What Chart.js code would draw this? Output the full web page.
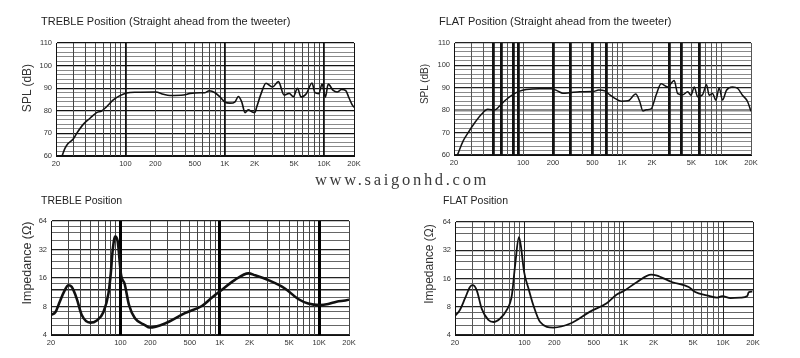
<!DOCTYPE html>
<html><head><meta charset="utf-8">
<script src="https://cdn.jsdelivr.net/npm/chart.js@4.4.1/dist/chart.umd.min.js"></script>
<style>
html,body{margin:0;padding:0;background:#fff;}
#wrap{position:relative;width:800px;height:358px;overflow:hidden;font-family:"Liberation Sans",Arial,sans-serif;background:#fff;}
canvas{position:absolute;left:0;top:0;}
.t{position:absolute;white-space:nowrap;color:#222;}
.v{position:absolute;white-space:nowrap;color:#333;transform:translate(-50%,-50%) rotate(-90deg);}
.wm{position:absolute;white-space:nowrap;color:#3a3a3a;font-family:"Liberation Serif","DejaVu Serif",serif;}
</style></head><body>
<div id="wrap">
<canvas id="c1" width="800" height="358"></canvas>
<canvas id="c2" width="800" height="358"></canvas>
<canvas id="c3" width="800" height="358"></canvas>
<canvas id="c4" width="800" height="358"></canvas>
<div class="t" style="left:41px;top:15px;font-size:11px">TREBLE Position (Straight ahead from the tweeter)</div>
<div class="t" style="left:439px;top:15px;font-size:11px">FLAT Position (Straight ahead from the tweeter)</div>
<div class="t" style="left:41px;top:194px;font-size:10.5px">TREBLE Position</div>
<div class="t" style="left:443px;top:194px;font-size:10.5px">FLAT Position</div>
<div class="v" style="left:27px;top:88px;font-size:12px">SPL (dB)</div>
<div class="v" style="left:424px;top:84px;font-size:10px">SPL (dB)</div>
<div class="v" style="left:27px;top:263px;font-size:12.5px">Impedance (Ω)</div>
<div class="v" style="left:429px;top:264px;font-size:12px">Impedance (Ω)</div>
<div class="wm" style="left:315px;top:170px;font-size:16.5px;letter-spacing:2.7px">www.saigonhd.com</div>
</div>
<script>
// ---------- data ----------
const trebleSplFreq = [22, 23, 24.6, 26.6, 29.8, 32.3, 37.6, 44, 51.3, 57.6, 64.6, 75.5, 88, 103, 130, 202, 241, 281, 385, 447, 566, 632, 699, 798, 893, 1005, 1130, 1270, 1370, 1480, 1600, 1720, 1940, 2010, 2100, 2360, 2600, 3020, 3470, 3950, 4450, 4900, 5400, 5850, 6650, 7550, 8100, 8850, 9550, 10300, 11000, 12340, 13500, 15000, 16500, 17700, 19000, 20000];
const trebleSplDb   = [58.5, 60, 63.4, 65.6, 67.5, 70, 74, 76.7, 79.2, 79.9, 81.8, 84.8, 86.7, 87.9, 88.2, 88.3, 87.3, 86.8, 87, 87.7, 88, 88, 88.9, 88, 86.2, 83.8, 83.4, 84, 86.3, 84, 79.2, 80.4, 79.3, 79.3, 81.8, 88.5, 92.2, 90.5, 92.9, 87, 87.7, 86.2, 90, 86.1, 87.7, 92.3, 88, 87.6, 91.8, 86.1, 91.8, 89, 88.3, 89.4, 89, 86, 83, 81.5];

const flatSplFreq = [21, 21.9, 24.7, 27.7, 32.4, 37.7, 43.9, 51.4, 57.8, 67.4, 78.6, 92, 107, 146, 192, 224, 251, 294, 373, 505, 580, 668, 750, 843, 983, 1150, 1370, 1500, 1620, 1750, 1960, 2200, 2470, 2880, 3350, 3640, 4090, 4590, 4960, 5350, 5780, 6480, 7110, 7560, 8170, 8840, 9540, 10300, 11300, 13000, 14600, 16400, 18400, 20000];
const flatSplDb   = [58.5, 60.5, 66.2, 69.9, 74.4, 78.1, 80.4, 80.1, 81.9, 84.8, 87, 88.5, 89.2, 89.6, 89.6, 88.5, 87.6, 87.8, 88.2, 88.3, 89, 88.6, 86.8, 85.3, 84, 84.2, 87.2, 84, 79.6, 80.2, 80.6, 86.8, 91.8, 90.4, 93.3, 87.4, 86.9, 88.2, 86.7, 90.4, 86, 86.9, 91.4, 86.7, 87.5, 84.5, 90, 84.5, 88.9, 90.4, 89.8, 86.7, 84, 79.5];

const trebleImpFreq = [20, 22.2, 24.5, 27.1, 29.9, 32.3, 36.3, 40.8, 49.6, 57.9, 67.5, 75.8, 80, 83.2, 88.4, 91, 94, 101.6, 110, 122, 140, 176, 197, 281, 446, 660, 830, 1006, 1410, 1940, 2270, 3080, 4530, 6160, 7770, 10200, 12340, 14960, 19600, 20000];
const trebleImpOhm  = [6.5, 7.0, 9.0, 11.5, 13.4, 12.9, 9.7, 6.5, 5.4, 5.7, 7.0, 11, 18, 30, 43.8, 43, 38.6, 17.1, 14.0, 8.3, 6.0, 5.1, 4.8, 5.3, 6.8, 8.1, 9.9, 11.6, 15.2, 17.9, 17.1, 15.2, 12.4, 9.6, 8.6, 8.3, 8.5, 9.0, 9.4, 9.5];

const flatImpFreq = [20, 22.4, 25.2, 28.3, 30.1, 33, 37.2, 43.3, 48.8, 56.9, 66.4, 74.7, 80.5, 88, 91.9, 99.2, 109.7, 123, 144, 196, 290, 458, 673, 849, 990, 1350, 1890, 2120, 3100, 4500, 5240, 6850, 8700, 9800, 11900, 15000, 17500, 18100, 19700];
const flatImpOhm  = [6.4, 7.4, 9.8, 13.0, 13.6, 12.1, 7.6, 5.8, 5.5, 6.0, 7.4, 10.6, 22, 44, 36, 18.8, 12.6, 8.3, 5.5, 4.8, 5.3, 7.1, 8.7, 10.8, 11.7, 14.6, 17.6, 17.3, 14.6, 13.0, 11.5, 10.6, 10.0, 10.4, 9.9, 10.0, 10.4, 11.4, 11.6];

// tick values / labels
const freqGridValues = [20,30,40,50,60,70,80,90,100,200,300,400,500,600,700,800,900,1000,2000,3000,4000,5000,6000,7000,8000,9000,10000,20000];
const freqLabelValues = [20, 100, 200, 500, 1000, 2000, 5000, 10000, 20000];
const freqLabelTexts  = ['20', '100', '200', '500', '1K', '2K', '5K', '10K', '20K'];
const splLabelValues = [60, 70, 80, 90, 100, 110];
const impGridValues = [4,5,6,7,8,10,12,14,16,20,24,28,32,40,48,56,64];
const impLabelValues = [4, 8, 16, 32, 64];
const impLabelTexts  = ['4', '8', '16', '32', '64'];

// ---------- helpers ----------
const pts = (xs, ys) => xs.map((x, i) => ({x, y: ys[i]}));
const W = 800, H = 358, YW = 20, XH = 14;
const tickFont = {family: '"Liberation Sans", Arial, sans-serif', size: 7.5};

function makePanel(id, rect, data, lineW, yType, styles) {
  const yIsLog = yType === 'logarithmic';
  new Chart(document.getElementById(id), {
    type: 'line',
    data: {datasets: [{data, borderColor: '#111', borderWidth: lineW, pointRadius: 0, fill: false, cubicInterpolationMode: 'monotone'}]},
    options: {
      responsive: false, animation: false, events: [],
      layout: {padding: {left: rect.l - YW, top: rect.t, right: W - rect.r, bottom: H - rect.b - XH}},
      plugins: {legend: {display: false}, tooltip: {enabled: false}},
      scales: {
        x: {
          type: 'logarithmic', min: 20, max: 20000,
          afterBuildTicks: s => { s.ticks = freqGridValues.map(v => ({value: v})); },
          afterFit: s => { s.height = XH; },
          ticks: {autoSkip: false, maxRotation: 0, minRotation: 0, padding: 3, color: '#333', font: tickFont,
            callback: v => { const i = freqLabelValues.indexOf(v); return i >= 0 ? freqLabelTexts[i] : ''; }},
          grid: {z: -1, drawTicks: false, color: c => styles.xColor(c.tick.value), lineWidth: c => styles.xWidth(c.tick.value)},
          border: {display: true, color: '#111', width: 1}
        },
        y: yIsLog ? {
          type: 'logarithmic', min: 4, max: 64,
          afterBuildTicks: s => { s.ticks = impGridValues.map(v => ({value: v})); },
          afterFit: s => { s.width = YW; },
          ticks: {autoSkip: false, padding: 4, color: '#333', font: tickFont,
            callback: v => { const i = impLabelValues.indexOf(v); return i >= 0 ? impLabelTexts[i] : ''; }},
          grid: {z: -2, drawTicks: false, color: c => styles.yColor(c.tick.value), lineWidth: c => styles.yWidth(c.tick.value)},
          border: {display: true, color: '#111', width: 1}
        } : {
          type: 'linear', min: 60, max: 110,
          afterFit: s => { s.width = YW; },
          ticks: {stepSize: 2, autoSkip: false, padding: 4, color: '#333', font: tickFont,
            callback: v => splLabelValues.includes(v) ? String(v) : ''},
          grid: {z: -2, drawTicks: false, color: c => styles.yColor(c.tick.value), lineWidth: c => styles.yWidth(c.tick.value)},
          border: {display: true, color: '#111', width: 1}
        }
      }
    }
  });
}

const decades = [20, 100, 1000, 10000, 20000];
const flatThick = [50, 60, 80, 90, 200, 300, 500, 700, 3000, 4000, 6000];

makePanel('c1', {l: 56, t: 43, r: 354, b: 156}, pts(trebleSplFreq, trebleSplDb), 1.6, 'linear', {
  xColor: v => decades.includes(v) ? '#111' : '#444',
  xWidth: v => (v === 100 || v === 1000 || v === 10000) ? 1.8 : 1,
  yColor: v => v % 10 === 0 ? '#111' : '#8a8a8a',
  yWidth: v => v % 10 === 0 ? 1.3 : 1
});
makePanel('c2', {l: 454, t: 43, r: 751, b: 155}, pts(flatSplFreq, flatSplDb), 1.5, 'linear', {
  xColor: v => flatThick.includes(v) ? '#111' : '#555',
  xWidth: v => flatThick.includes(v) ? 2.8 : 1,
  yColor: v => v === 80 ? '#888' : (v % 10 === 0 ? '#222' : '#8a8a8a'),
  yWidth: v => v === 80 ? 2.5 : (v % 10 === 0 ? 1.3 : 1)
});
makePanel('c3', {l: 51, t: 221, r: 349, b: 335}, pts(trebleImpFreq, trebleImpOhm), 2.6, 'logarithmic', {
  xColor: v => (v === 100 || v === 1000 || v === 10000) ? '#000' : '#444',
  xWidth: v => (v === 100 || v === 1000 || v === 10000) ? 3 : 1,
  yColor: v => (v === 12 || impLabelValues.includes(v)) ? '#222' : '#666',
  yWidth: v => v === 12 ? 1.6 : (impLabelValues.includes(v) ? 1.2 : 1)
});
makePanel('c4', {l: 455, t: 222, r: 753, b: 335}, pts(flatImpFreq, flatImpOhm), 1.8, 'logarithmic', {
  xColor: v => decades.includes(v) ? '#222' : '#555',
  xWidth: v => 1,
  yColor: v => (v === 12 || impLabelValues.includes(v)) ? '#222' : '#666',
  yWidth: v => v === 12 ? 1.6 : (impLabelValues.includes(v) ? 1.2 : 1)
});
</script>
</body></html>
